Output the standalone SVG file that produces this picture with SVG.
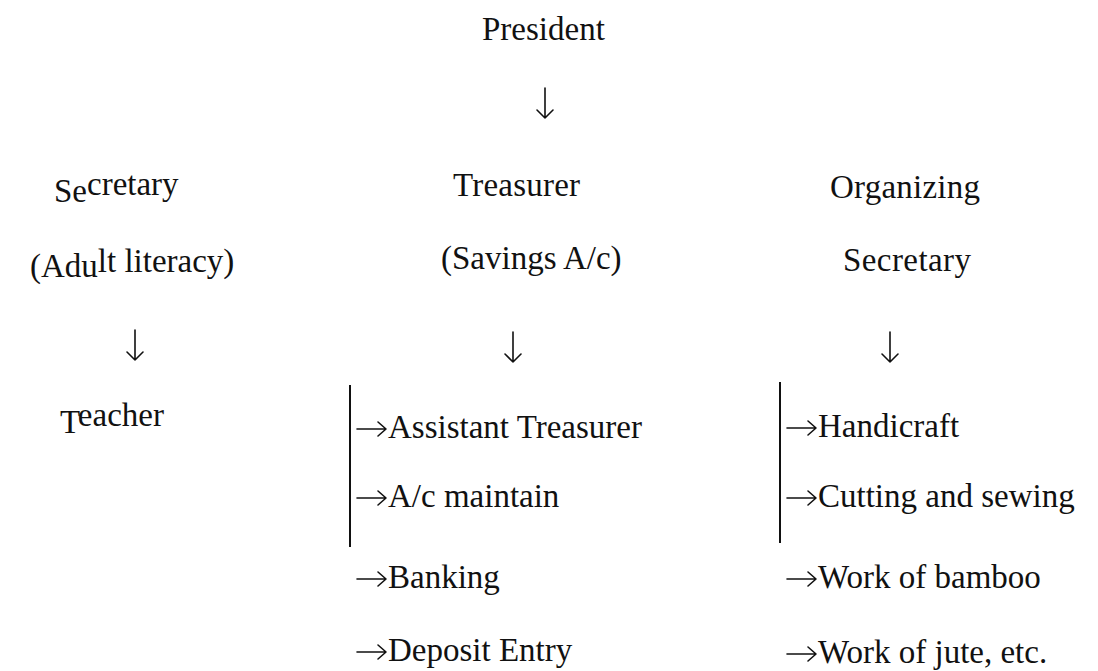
<svg xmlns="http://www.w3.org/2000/svg" width="1098" height="671" viewBox="0 0 1098 671">
  <style>
    text { font-family: "Liberation Serif", "Times New Roman", serif; font-size: 33px; fill: #111; }
    .bar { stroke: #111; stroke-width: 2; fill: none; }
    .arw { stroke: #111; stroke-width: 1.6; fill: none; stroke-linecap: round; stroke-linejoin: round; }
  </style>
  <defs>
    <!-- open-headed arrows, drawn from the origin -->
    <path id="down" class="arw" d="M0,0 V30 M-8,22 L0,30 L8,22"/>
    <path id="right" class="arw" d="M0,0 H29 M21,-7 L29,0 L21,7"/>
  </defs>
  <rect width="1098" height="671" fill="#fff"/>

  <g id="president"><text x="482" y="40">President</text></g>
  <g id="secretary"><text x="54" y="202">Se<tspan dy="-7">cretary</tspan></text>
    <text x="30" y="277">(Adu<tspan dy="-5">lt literacy)</tspan></text></g>
  <g id="treasurer"><text x="453" y="196" textLength="127">Treasurer</text>
    <text x="441" y="269">(Savings A/c)</text></g>
  <g id="organizing"><text x="830" y="198" textLength="150">Organizing</text>
    <text x="843" y="271" textLength="128">Secretary</text></g>
  <g id="teacher"><text x="60" y="433">T<tspan dy="-7">eacher</tspan></text></g>
  <g id="treasurer-tasks">
    <text x="388" y="438">Assistant Treasurer</text>
    <text x="388" y="507">A/c maintain</text>
    <text x="388" y="588">Banking</text>
    <text x="388" y="661">Deposit Entry</text>
  </g>
  <g id="organizer-tasks">
    <text x="818" y="437">Handicraft</text>
    <text x="818" y="507">Cutting and sewing</text>
    <text x="818" y="588">Work of bamboo</text>
    <text x="818" y="663">Work of jute, etc.</text>
  </g>

  <g id="connectors">
    <use href="#down" x="545" y="88"/>
    <use href="#down" x="135" y="330"/>
    <use href="#down" x="513" y="332"/>
    <use href="#down" x="890" y="332"/>
    <line class="bar" x1="350" y1="385" x2="350" y2="547"/>
    <line class="bar" x1="780" y1="382" x2="780" y2="543"/>
    <use href="#right" x="357" y="429"/>
    <use href="#right" x="357" y="498"/>
    <use href="#right" x="357" y="579"/>
    <use href="#right" x="357" y="652"/>
    <use href="#right" x="787" y="428"/>
    <use href="#right" x="787" y="498"/>
    <use href="#right" x="787" y="579"/>
    <use href="#right" x="787" y="654"/>
  </g>
</svg>
